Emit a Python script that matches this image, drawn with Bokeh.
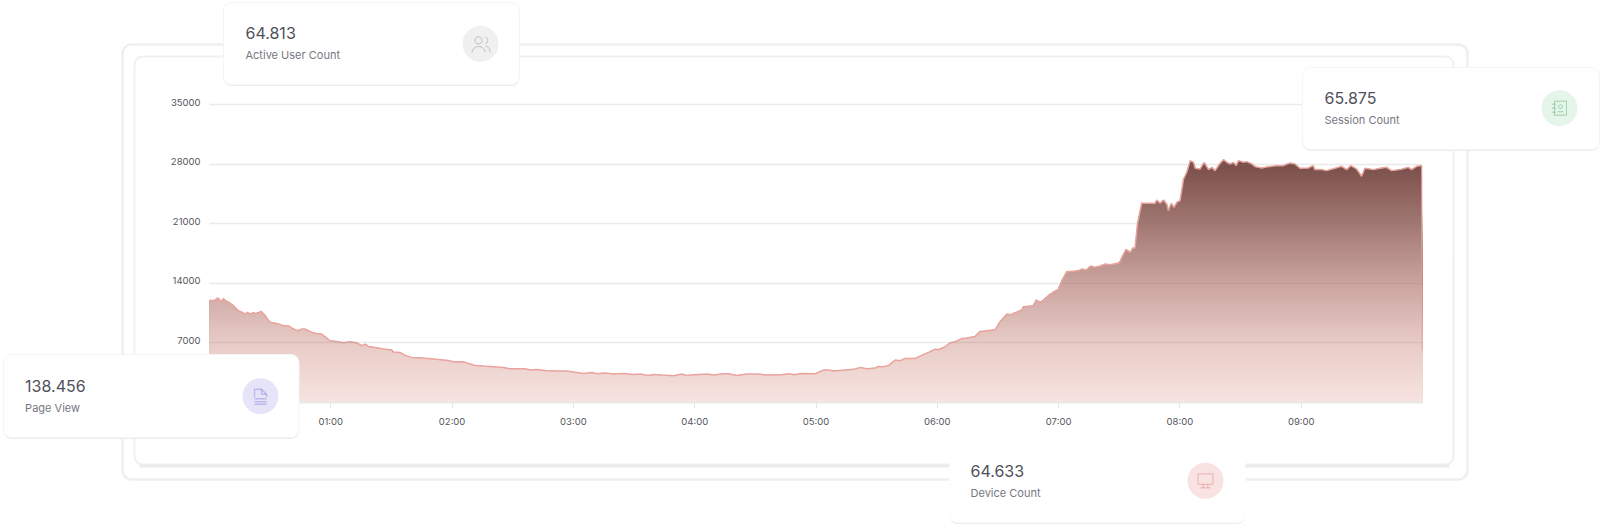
import math
import numpy as np
from bokeh.plotting import figure
from bokeh.models import BoxAnnotation, Label, PolyAnnotation, FixedTicker, Range1d, LinearAxis
from bokeh.embed import file_html
from bokeh.resources import INLINE

minutes = [0,1.4,2.8,3.8,4.7,5.7,6.9,8,9.7,11.8,14.3,16.3,17.6,18.8,20,21.7,22.5,24.2,25.5,27.2,29.2,30.5,33.3,36.6,39,41.5,43.7,45.6,47.3,49,50.6,53,55.5,57.5,59.7,63,66.3,69.6,
 72.9,75.3,77,78.6,82,86,90.2,91,94.3,96.8,100,105,110.8,118.2,120.7,123.1,125.6,128,131.4,135.5,140.5,145.4,149.5,152,156.1,158.6,161.9,166.8,171.8,176.7,181.7,185,189.1,191.6,195.7,199.8,204.8,209.7,213,217.1,219.6,223.7,229.5,233.6,236.1,239.4,
 242.7,246,249.3,254.2,256.7,260.8,265.8,271.6,275.7,283.1,286.4,289.7,292.2,299.6,303.7,306.2,308.7,316.1,319.4,321.9,325.2,329.3,330.9,333.4,335.9,339.2,341.6,344.1,349.1,351.5,355.7,359,360.6,363.9,366.4,368.8,372.2,374.6,378.7,381.2,384.5,388.6,391.1,
 394.4,396.2,401.8,402.6,407.5,408.9,410.9,412.5,415.8,419.9,421.6,424,429.8,431.5,433.6,435.9,438,440.5,443,445.5,450.1,452.1,453.4,455.4,456.7,457.8,459,461.1,463.6,467.7,468.6,470.2,471.9,473.5,474.3,475.7,477.1,478.5,480.1,
 481.8,483.4,485.1,486.7,487.6,490,492,494.2,495.8,497.4,499.6,501.6,503.2,504.9,506.5,507.8,509,511.5,513.1,515.6,517.2,520.5,523.8,528,
 531.2,534.4,536.9,539.4,543.5,545.9,546.8,550.1,552.6,556.7,560,562.5,564.5,567.4,569.9,571.5,575.7,579,582.3,584.7,588.9,593,594.6,597.1,599.7,600]
visits = [12043,11965,12043,12278,12200,11769,12239,11965,11769,11377,10789,10593,10397,10593,10397,10593,10475,10554,10710,10319,9613,9417,9299,9025,9025,8633,8437,8633,8633,8437,8241,8123,8045,7653,7261,7183,7026,7144,
 6988,6674,6870,6596,6478,6282,6164,5929,5890,5537,5302,5224,5106,4949,4792,4753,4792,4596,4361,4283,4204,4126,3930,3969,3969,3812,3890,3734,3695,3695,3538,3420,3538,3381,3460,3342,3420,3303,3342,3185,3303,3224,3146,3342,3185,3263,
 3303,3342,3224,3381,3381,3185,3342,3342,3224,3263,3381,3263,3420,3381,3812,3812,3695,3852,3930,4126,3969,4048,4244,4204,4361,4988,4910,5184,5184,5459,5890,6282,6204,6556,7027,7144,7536,7576,7772,8360,8438,8556,9536,
 10402,10324,10872,11264,11382,12048,11774,12048,12754,13342,14322,15380,15498,15694,15576,16047,15890,16047,16282,16204,16439,17458,18007,17654,18164,18164,20986,23456,23416,23416,23808,23416,23808,23338,22554,23416,22946,23534,23730,
 26281,27065,28437,28241,27535,27457,28241,27379,27653,27261,28045,28555,28241,28045,28241,27849,28437,28241,28319,28045,27731,27575,27731,27849,
 27849,28163,28045,27535,27575,27849,27379,27379,27261,27535,27771,27379,27849,27457,26595,27535,27379,27535,27653,27261,27379,27653,27379,27771,27849,6100]
y_ticks = [0,7000,14000,21000,28000,35000]
x_ticks = [0,60,120,180,240,300,360,420,480,540]
x_tick_labels = ["00:00","01:00","02:00","03:00","04:00","05:00","06:00","07:00","08:00","09:00"]
card_values = ["64.813","65.875","138.456","64.633"]
card_names = ["Active User Count","Session Count","Page View","Device Count"]

W,H = 1600,526
VALUE_PER_PX = 35000/297.5
p = figure(width=W,height=H,output_backend="svg",toolbar_location=None,
           x_range=Range1d(0,600),y_range=Range1d(0,35000+VALUE_PER_PX*4.3),y_axis_location=None,
           min_border_left=209,min_border_right=178,min_border_top=100,min_border_bottom=124,
           background_fill_color="white",border_fill_color="white")
p.outline_line_color=None

stops=[0,.25,.5,.75,1]
chan=[[247,232,202,160,120],[228,203,163,118,76],[225,198,158,113,71]]
ymax=max(visits); n=110
t=np.array(minutes,float); v=np.array(visits,float)
for i in range(n,0,-1):
    f=i/n
    c=[int(round(np.interp(f,stops,ch))) for ch in chan]
    p.varea(t,0,np.minimum(v,ymax*f),fill_color="#%02x%02x%02x"%tuple(c),fill_alpha=1)
p.line(t,v,line_color="#e9a49e",line_width=1.5)

p.xgrid.visible=False
p.ygrid.ticker=FixedTicker(ticks=y_ticks[1:])
p.ygrid.grid_line_color="#7a7a7a"; p.ygrid.grid_line_alpha=0.16; p.ygrid.grid_line_width=1.5
p.ygrid.level="guide"

# the value labels sit a little above their grid lines: an axis on a range moved by 2.5 px
lift=VALUE_PER_PX*2.5
p.extra_y_ranges={"labels":Range1d(p.y_range.start-lift,p.y_range.end-lift)}
ya=LinearAxis(y_range_name="labels",ticker=FixedTicker(ticks=y_ticks))
p.add_layout(ya,"left")

xa=p.xaxis[0]
xa.ticker=FixedTicker(ticks=x_ticks); xa.major_label_overrides=dict(zip(x_ticks,x_tick_labels))
xa.axis_line_color="#e9e9e9"; xa.axis_line_width=2
xa.major_tick_line_color="#e6e6e6"; xa.major_tick_out=6; xa.major_tick_in=0; xa.minor_tick_line_color=None
ya.axis_line_color=None; ya.major_tick_line_color=None; ya.minor_tick_line_color=None
for a in (xa,ya):
    a.major_label_text_font="Inter"; a.major_label_text_font_size="9.5px"; a.major_label_text_color="#55555c"
xa.major_label_standoff=7; ya.major_label_standoff=3

# transparent layer over the chart: panels, cards and icons, placed in page pixels
q = figure(width=W,height=H,output_backend="svg",toolbar_location=None,
           x_range=Range1d(0,W),y_range=Range1d(H,0),x_axis_location=None,y_axis_location=None,
           min_border=0,background_fill_alpha=0,border_fill_alpha=0)
q.outline_line_color=None; q.grid.visible=False
q.margin=(-H,0,0,0)

def box(l,t_,r,b,fill="white",line=None,lw=1,rad=0):
    q.add_layout(BoxAnnotation(left=l,right=r,top=t_,bottom=b,left_units="canvas",right_units="canvas",top_units="canvas",bottom_units="canvas",
        fill_color=fill,fill_alpha=1 if fill else 0,line_color=line,line_width=lw,line_alpha=1 if line else 0,border_radius=rad,level="annotation",editable=False))
def label(x,y,s,size,color):
    q.add_layout(Label(x=x,y=y,x_units="canvas",y_units="canvas",text=s,text_font="Inter",text_font_size=size,text_color=color,text_baseline="middle",text_align="left",level="overlay"))
def path(pts,color,w=1):
    xs=[a for a,_ in pts]+[a for a,_ in reversed(pts)]
    ys=[b for _,b in pts]+[b for _,b in reversed(pts)]
    q.add_layout(PolyAnnotation(xs=xs,ys=ys,xs_units="canvas",ys_units="canvas",fill_alpha=0,line_color=color,line_width=w,level="overlay"))
def arc(cx,cy,rx,ry,a0,a1,k=14):
    return [(cx+rx*math.cos(math.radians(a0+(a1-a0)*i/k)),cy+ry*math.sin(math.radians(a0+(a1-a0)*i/k))) for i in range(k+1)]

box(122,44,1467,479,fill=None,line="#efefef",lw=2.5,rad=9)
box(134,56,1453,464,fill=None,line="#f0f0f0",lw=2,rad=8)
box(139,464,1449,467,fill="#ebebeb")

def card(l,t_,r,b,num,name,tx,ny,ly,cx,cy,bg,edge="#f5f5f5"):
    box(l,t_+2,r,b+1.5,fill="#ececec",rad=8)
    box(l,t_,r,b,fill="white",line=edge,lw=1,rad=8)
    box(cx-18,cy-18,cx+18,cy+18,fill=bg,rad=18)
    label(tx,ny,num,"16px","#50505a")
    label(tx,ly,name,"11px","#77777f")

card(223,2,519,84,card_values[0],card_names[0],245,32.5,54.7,480,43.3,"#f0f0f0")
card(1302,67,1599,149,card_values[1],card_names[1],1324,97.5,119.7,1559,107.7,"#e6f5e9")
card(3,354,298.5,437,card_values[2],card_names[2],24.6,385.5,407,260,395.7,"#e6e4f8")
card(949,440,1244.5,522,card_values[3],card_names[3],970,470.2,492.3,1205,480.3,"#f8e3e2",edge="#fdfdfd")

g="#9c9ca0"
path(arc(478,40,3.6,3.6,0,360),g); path(arc(484,40,3.2,3.6,-70,70),g)
path(arc(478,52,6.5,6,180,360),g); path(arc(486,52,3.5,6,250,360),g)
gr="#5fb87a"; cx,cy=1559,107.7
path([(cx-5,cy-7),(cx+7,cy-7),(cx+7,cy+7),(cx-5,cy+7),(cx-5,cy-7)],gr)
path(arc(cx+1,cy-1.5,2,2,0,360),gr); path([(cx-2,cy+3.5),(cx+4,cy+3.5)],gr)
for d in(-4,0,4): path([(cx-7.5,cy+d),(cx-3.5,cy+d)],gr)
pu="#5f54cc"; cx,cy=260,395.7
path([(cx-6,cy+1),(cx-6,cy-7),(cx+1,cy-7),(cx+6,cy-2),(cx+6,cy+1)],pu,1.4)
path([(cx+1,cy-7),(cx+1,cy-2),(cx+6,cy-2)],pu,1.4)
for d in(2.5,5.5,8): path([(cx-6,cy+d),(cx+6,cy+d)],pu,1.4)
re="#d9605c"; cx,cy=1205,480.3
path([(cx-7.5,cy-7),(cx+7.5,cy-7),(cx+7.5,cy+3.5),(cx-7.5,cy+3.5),(cx-7.5,cy-7)],re,1.2)
path([(cx-2,cy+3.5),(cx-2.5,cy+7)],re,1.2); path([(cx+2,cy+3.5),(cx+2.5,cy+7)],re,1.2); path([(cx-5,cy+7),(cx+5,cy+7)],re,1.2)

open("out.html","w").write(file_html([p,q],INLINE))
